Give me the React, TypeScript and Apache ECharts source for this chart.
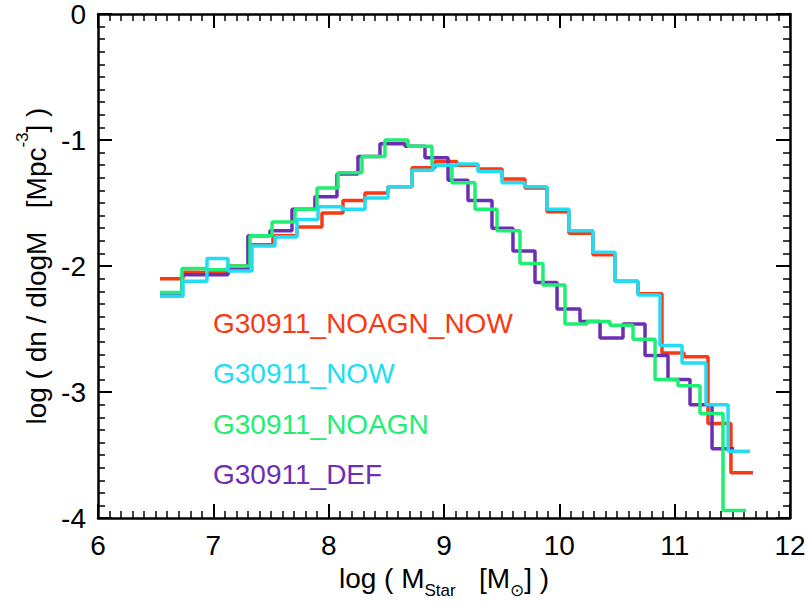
import React, { useEffect, useRef } from "react";
import * as echarts from "echarts";

// Bin edges (log M*) and values (log dn/dlogM)
const EDGES_NOAGN_NOW = [6.538, 6.737, 6.945, 7.136, 7.318, 7.517, 7.725, 7.942, 8.124, 8.315, 8.514, 8.723, 8.922, 9.113, 9.295, 9.503, 9.702, 9.893, 10.084, 10.292, 10.483, 10.682, 10.89, 11.081, 11.289, 11.488, 11.679];
const VALUES_NOAGN_NOW = [-2.1, -2.05, -2.05, -2.0, -1.83, -1.76, -1.69, -1.58, -1.48, -1.42, -1.37, -1.22, -1.17, -1.2, -1.23, -1.31, -1.38, -1.57, -1.74, -1.91, -2.12, -2.22, -2.69, -2.72, -3.25, -3.64];

const EDGES_NOW = [6.538, 6.737, 6.945, 7.127, 7.335, 7.535, 7.725, 7.908, 8.116, 8.315, 8.514, 8.723, 8.905, 9.113, 9.295, 9.503, 9.702, 9.893, 10.084, 10.292, 10.483, 10.682, 10.873, 11.064, 11.272, 11.463, 11.653];
const VALUES_NOW = [-2.24, -2.12, -1.94, -2.04, -1.84, -1.77, -1.63, -1.53, -1.55, -1.46, -1.37, -1.24, -1.2, -1.19, -1.25, -1.34, -1.37, -1.55, -1.72, -1.89, -2.12, -2.23, -2.63, -2.77, -3.1, -3.47];

const EDGES_NOAGN = [6.538, 6.728, 6.928, 7.127, 7.318, 7.509, 7.708, 7.899, 8.081, 8.289, 8.488, 8.688, 8.896, 9.069, 9.269, 9.46, 9.659, 9.858, 10.049, 10.24, 10.439, 10.639, 10.83, 11.029, 11.22, 11.419, 11.619];
const VALUES_NOAGN = [-2.21, -2.02, -2.03, -2.0, -1.76, -1.65, -1.55, -1.38, -1.26, -1.13, -1.0, -1.05, -1.2, -1.34, -1.55, -1.72, -1.98, -2.15, -2.46, -2.44, -2.47, -2.58, -2.9, -2.95, -3.17, -3.94];

const EDGES_DEF = [6.538, 6.728, 6.928, 7.127, 7.3, 7.491, 7.682, 7.881, 8.072, 8.254, 8.445, 8.662, 8.835, 9.035, 9.208, 9.416, 9.598, 9.789, 9.98, 10.179, 10.353, 10.552, 10.743, 10.942, 11.133, 11.324, 11.515];
const VALUES_DEF = [-2.23, -2.07, -2.07, -2.03, -1.76, -1.72, -1.55, -1.45, -1.27, -1.13, -1.03, -1.05, -1.14, -1.32, -1.48, -1.7, -1.88, -2.13, -2.34, -2.44, -2.57, -2.46, -2.71, -2.9, -3.1, -3.45];

const SERIES_NAMES = ["G30911_NOAGN_NOW", "G30911_NOW", "G30911_NOAGN", "G30911_DEF"];
const SERIES_COLORS = ["#f83a14", "#22dcf4", "#1eee72", "#6c2fb4"];
const DRAW_ORDER = [0, 3, 2, 1];

const X_MIN = 6;
const X_MAX = 12;
const Y_MIN = -4;
const Y_MAX = 0;

const FONT = "'Liberation Sans', Arial, Helvetica, sans-serif";

function stepData(edges: number[], values: number[]) {
  const pts: number[][] = values.map((v, i) => [edges[i], v]);
  pts.push([edges[edges.length - 1], values[values.length - 1]]);
  return pts;
}

const ALL_EDGES = [EDGES_NOAGN_NOW, EDGES_NOW, EDGES_NOAGN, EDGES_DEF];
const ALL_VALUES = [VALUES_NOAGN_NOW, VALUES_NOW, VALUES_NOAGN, VALUES_DEF];

export default function App() {
  const ref = useRef<HTMLDivElement>(null);

  useEffect(() => {
    if (!ref.current) return;
    const chart = echarts.init(ref.current, undefined, { renderer: "svg" });

    const axisCommon = {
      type: "value" as const,
      splitLine: { show: false },
      axisLine: { show: true, onZero: false, lineStyle: { color: "#000", width: 2.5 } },
      axisTick: { show: true, inside: true, length: 14, lineStyle: { color: "#000", width: 2 } },
      minorTick: { show: true, splitNumber: 10, length: 7, lineStyle: { color: "#000", width: 1.5 } },
    };

    const series = DRAW_ORDER.map((idx) => ({
      name: SERIES_NAMES[idx],
      type: "line" as const,
      step: "end" as const,
      symbol: "none",
      showSymbol: false,
      xAxisIndex: 0,
      yAxisIndex: 0,
      data: stepData(ALL_EDGES[idx], ALL_VALUES[idx]),
      lineStyle: { color: SERIES_COLORS[idx], width: 3.5 },
      itemStyle: { color: SERIES_COLORS[idx] },
      z: 2,
    }));

    const legendTexts = SERIES_NAMES.map((name, i) => ({
      type: "text" as const,
      x: 213,
      y: 323 + i * 50.5,
      style: {
        text: name,
        fill: SERIES_COLORS[i],
        fontSize: 28,
        fontFamily: FONT,
        verticalAlign: "middle",
        align: "left",
      },
      z: 10,
    }));

    chart.setOption({
      animation: false,
      backgroundColor: "#fff",
      grid: { left: 98, right: 19, top: 11, bottom: 81, containLabel: false },
      xAxis: [
        {
          ...axisCommon,
          position: "bottom",
          min: X_MIN,
          max: X_MAX,
          interval: 1,
          axisLabel: { color: "#000", fontSize: 28, fontFamily: FONT, margin: 13 },
          name: "{a|log ( M}{sub|Star}{a|   [M}{sub|⊙}{a|] )}",
          nameLocation: "middle",
          nameGap: 44,
          nameTextStyle: {
            color: "#000",
            fontFamily: FONT,
            fontSize: 28,
            rich: {
              a: { fontSize: 28, fontFamily: FONT, color: "#000", verticalAlign: "top", lineHeight: 35 },
              sub: { fontSize: 17, fontFamily: FONT, color: "#000", verticalAlign: "bottom", lineHeight: 35 },
            },
          },
        },
        {
          ...axisCommon,
          position: "top",
          min: X_MIN,
          max: X_MAX,
          interval: 1,
          axisLabel: { show: false },
        },
      ],
      yAxis: [
        {
          ...axisCommon,
          position: "left",
          min: Y_MIN,
          max: Y_MAX,
          interval: 1,
          axisLabel: { color: "#000", fontSize: 28, fontFamily: FONT, margin: 12 },
          name: "{a|log ( dn / dlogM   [Mpc}{sup|-3}{a|] )}",
          nameLocation: "middle",
          nameGap: 44,
          nameRotate: 90,
          nameTextStyle: {
            color: "#000",
            fontFamily: FONT,
            fontSize: 28,
            rich: {
              a: { fontSize: 28, fontFamily: FONT, color: "#000", verticalAlign: "bottom", lineHeight: 36 },
              sup: { fontSize: 17, fontFamily: FONT, color: "#000", verticalAlign: "top", lineHeight: 36 },
            },
          },
        },
        {
          ...axisCommon,
          position: "right",
          min: Y_MIN,
          max: Y_MAX,
          interval: 1,
          axisLabel: { show: false },
        },
      ],
      series,
      graphic: legendTexts,
    });

    return () => {
      chart.dispose();
    };
  }, []);

  return (
    <div
      ref={ref}
      style={{ position: "fixed", left: 0, top: 0, width: 809, height: 604, background: "#fff" }}
    />
  );
}
